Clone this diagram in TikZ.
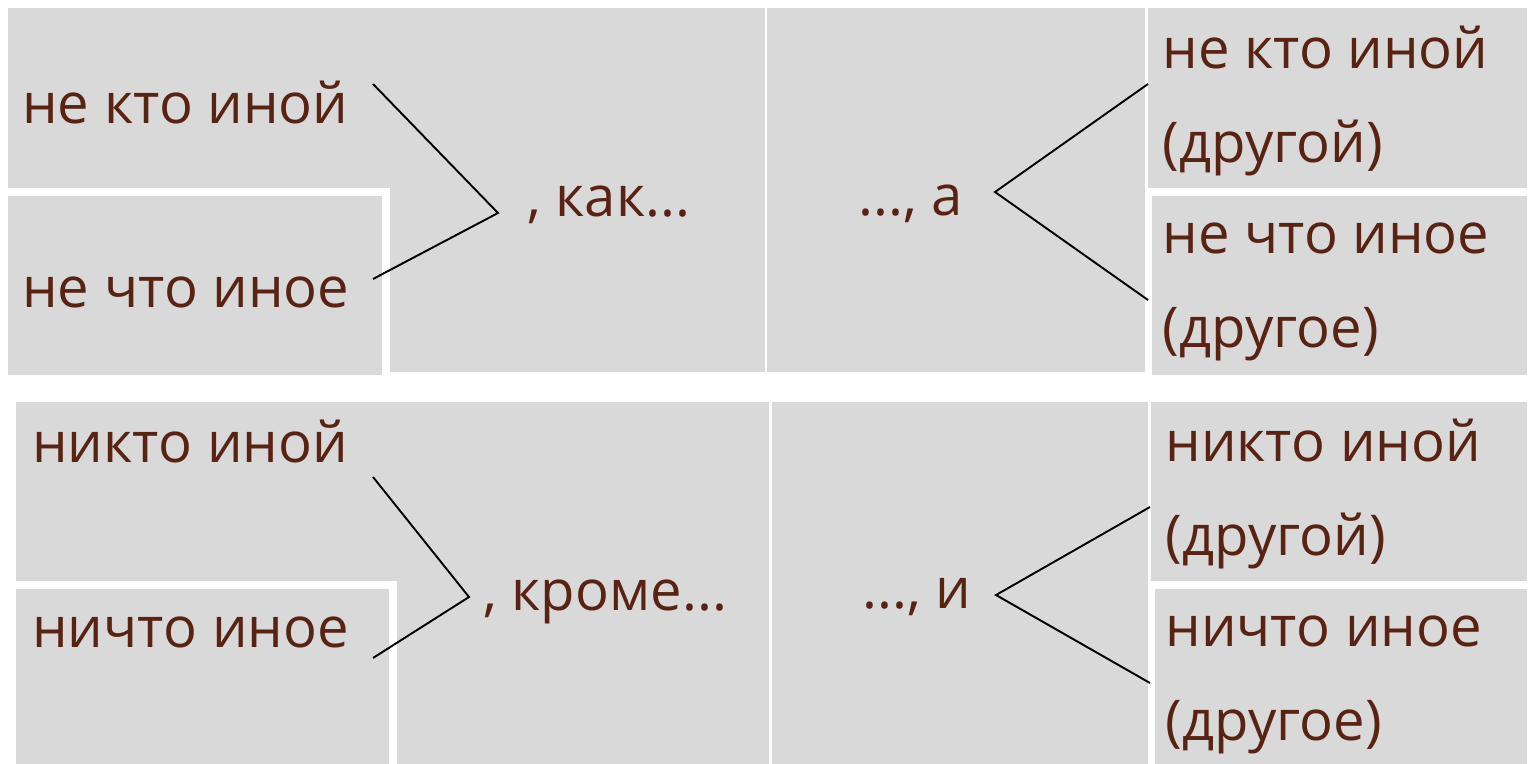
\documentclass[tikz,border=0pt]{standalone}
\usepackage{fontspec}
\setmainfont{Open Sans}
\usepackage{tikz}
\usetikzlibrary{positioning}
\definecolor{cellgray}{RGB}{217,217,217}
\definecolor{wordbrown}{RGB}{89,35,20}

\begin{document}
\begin{tikzpicture}[
  x=0.02cm, y=-0.02cm,
  font=\fontsize{32}{53}\selectfont,
  cell/.style={fill=cellgray},
  word/.style={anchor=base west, inner sep=0pt, text=wordbrown, align=left},
  fork/.style={black, line width=1.1pt}
]
\useasboundingbox (0,0) rectangle (1529,764);
% upper block
\fill[cell] (8,8) rectangle (390,188);
\fill[cell] (8,196) rectangle (382,375);
\fill[cell] (390,8) rectangle (765,372);
\fill[cell] (767,8) rectangle (1145,372);
\fill[cell] (1148,8) rectangle (1527,188);
\fill[cell] (1152,196) rectangle (1527,375);
% lower block
\fill[cell] (16,402) rectangle (397,581);
\fill[cell] (16,589) rectangle (389,764);
\fill[cell] (397,402) rectangle (769,764);
\fill[cell] (772,402) rectangle (1148,764);
\fill[cell] (1151,402) rectangle (1527,581);
\fill[cell] (1155,589) rectangle (1527,764);

% base of two-line words = last line
\node[word] (ktoL) at (22,123) {не кто иной};
\node[word] (chtoL) at (22,307) {не что иное};
\node[word] (kak) at (527,216) {, как...};
\node[word] (a) at (858,215) {..., а};
\node[word] (ktoR) at (1162,162) {не кто иной\\(другой)};
\node[word] (chtoR) at (1162,347) {не что иное\\(другое)};

\node[word] (niktoL) at (32,462) {никто иной};
\node[word] (nichtoL) at (32,647) {ничто иное};
\node[word] (krome) at (483,610) {, кроме...};
\node[word] (i) at (862,608) {..., и};
\node[word] (niktoR) at (1165,555) {никто иной\\(другой)};
\node[word] (nichtoR) at (1165,740) {ничто иное\\(другое)};

\coordinate (kakA) at (373,84);
\coordinate (kakJ) at (498,213);
\coordinate (kakB) at (373,279);
\coordinate (aJ) at (995,192);
\coordinate (aA) at (1148,84);
\coordinate (aB) at (1148,300);
\coordinate (kromeA) at (373,477);
\coordinate (kromeJ) at (469,597);
\coordinate (kromeB) at (373,658);
\coordinate (iJ) at (996,595);
\coordinate (iA) at (1150,507);
\coordinate (iB) at (1150,683);

\draw[fork] (kakA) -- (kakJ) -- (kakB);
\draw[fork] (aA) -- (aJ) -- (aB);
\draw[fork] (kromeA) -- (kromeJ) -- (kromeB);
\draw[fork] (iA) -- (iJ) -- (iB);
\end{tikzpicture}
\end{document}
